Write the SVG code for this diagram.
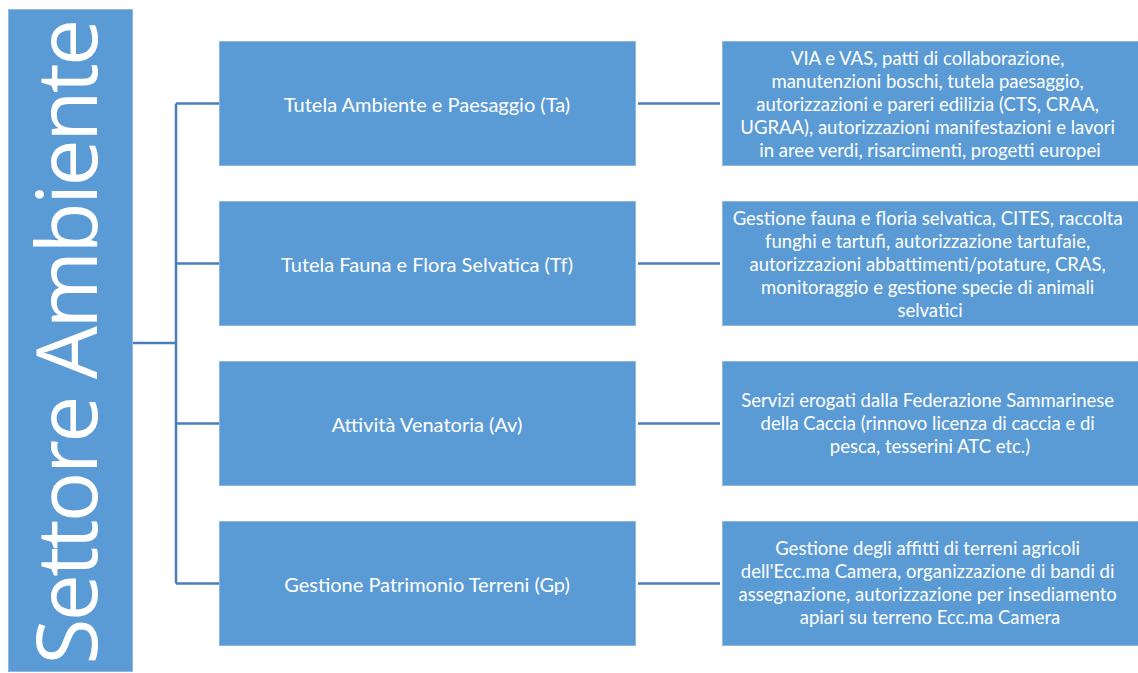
<svg xmlns="http://www.w3.org/2000/svg" width="1138" height="673" viewBox="0 0 1138 673">
<style>
.box{fill:#5b9bd5;stroke:#8cb8e2;stroke-width:1}
.t{font-family:Lato,"Open Sans",sans-serif;fill:#ffffff;text-anchor:middle;dominant-baseline:central}
.m{font-size:20px}
.r{font-size:18.5px}
.big{font-family:"Open Sans",Lato,sans-serif;font-weight:400;font-size:84px;letter-spacing:-2.7px;fill:#ffffff;text-anchor:middle}
.c{stroke:#4a7ebb;stroke-width:2.5;fill:none}
</style>
<rect width="1138" height="673" fill="#ffffff"/>
<g id="connectors">
<path class="c" d="M133 343H176M176 103.5V583.5M176 103.5H219M176 263.5H219M176 423.5H219M176 583.5H219"/>
<path class="c" d="M638 103.5H720M638 263.5H720M638 423.5H720M638 583.5H720"/>
</g>
<g id="root">
<rect class="box" x="8.5" y="9.5" width="124" height="662"/>
<text class="big" transform="translate(97,343) rotate(-90)">Settore Ambiente</text>
</g>
<g id="ta">
<rect class="box" x="219.5" y="41.5" width="416" height="124"/>
<text class="t m" x="427" y="103.5">Tutela Ambiente e Paesaggio (Ta)</text>
</g>
<g id="tf">
<rect class="box" x="219.5" y="201.5" width="416" height="124"/>
<text class="t m" x="427" y="263.5">Tutela Fauna e Flora Selvatica (Tf)</text>
</g>
<g id="av">
<rect class="box" x="219.5" y="361.5" width="416" height="124"/>
<text class="t m" x="427" y="423.5">Attività Venatoria (Av)</text>
</g>
<g id="gp">
<rect class="box" x="219.5" y="521.5" width="416" height="124"/>
<text class="t m" x="427" y="583.5">Gestione Patrimonio Terreni (Gp)</text>
</g>
<g id="ta-desc">
<rect class="box" x="722.5" y="41.5" width="416" height="124"/>
<text class="t r" x="930">
<tspan x="930" y="57.5">VIA e VAS, patti di collaborazione,</tspan>
<tspan x="930" y="80.5">manutenzioni boschi, tutela paesaggio,</tspan>
<tspan x="930" y="103.5">autorizzazioni e pareri edilizia (CTS, CRAA,</tspan>
<tspan x="930" y="126.5">UGRAA), autorizzazioni manifestazioni e lavori</tspan>
<tspan x="930" y="149.5">in aree verdi, risarcimenti, progetti europei</tspan>
</text>
</g>
<g id="tf-desc">
<rect class="box" x="722.5" y="201.5" width="416" height="124"/>
<text class="t r" x="930">
<tspan x="930" y="217.5">Gestione fauna e floria selvatica, CITES, raccolta</tspan>
<tspan x="930" y="240.5">funghi e tartufi, autorizzazione tartufaie,</tspan>
<tspan x="930" y="263.5">autorizzazioni abbattimenti/potature, CRAS,</tspan>
<tspan x="930" y="286.5">monitoraggio e gestione specie di animali</tspan>
<tspan x="930" y="309.5">selvatici</tspan>
</text>
</g>
<g id="av-desc">
<rect class="box" x="722.5" y="361.5" width="416" height="124"/>
<text class="t r" x="930">
<tspan x="930" y="400">Servizi erogati dalla Federazione Sammarinese</tspan>
<tspan x="930" y="423">della Caccia (rinnovo licenza di caccia e di</tspan>
<tspan x="930" y="446">pesca, tesserini ATC etc.)</tspan>
</text>
</g>
<g id="gp-desc">
<rect class="box" x="722.5" y="521.5" width="416" height="124"/>
<text class="t r" x="930">
<tspan x="930" y="548">Gestione degli affitti di terreni agricoli</tspan>
<tspan x="930" y="571">dell'Ecc.ma Camera, organizzazione di bandi di</tspan>
<tspan x="930" y="594">assegnazione, autorizzazione per insediamento</tspan>
<tspan x="930" y="617">apiari su terreno Ecc.ma Camera</tspan>
</text>
</g>
</svg>
